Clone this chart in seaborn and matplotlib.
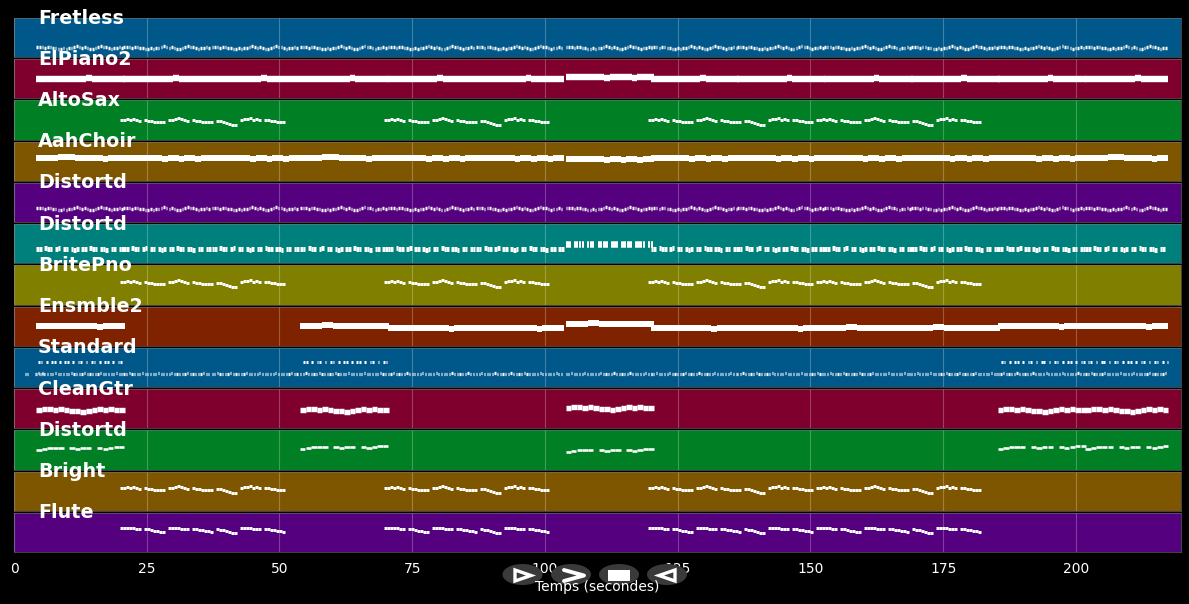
"""Piano-roll style overview of a MIDI file, one strip per instrument."""

import numpy as np
import pandas as pd
import matplotlib
matplotlib.use("Agg")
import matplotlib.pyplot as plt
from matplotlib.patches import Ellipse, Polygon, Rectangle
import seaborn as sns

nan = float("nan")

# ── Tracks ─────────────────────────────────────────────────────────────────────
TRACK_NAMES = ["Fretless", "ElPiano2", "AltoSax", "AahChoir", "Distortd", "Distortd",
               "BritePno", "Ensmble2", "Standard", "CleanGtr", "Distortd", "Bright", "Flute"]
STRIP_COLORS = ["#00578a", "#7f002c", "#007f24", "#7f5600", "#55007f", "#00807c", "#807f00",
                "#7f2200", "#00578a", "#7f002c", "#007f24", "#7f5600", "#55007f"]
X_TICKS = [0, 25, 50, 75, 100, 125, 150, 175, 200]
X_MAX = 219.8
LAST_NOTE = 217.4

# start of each 16-second section
BAR_STARTS = [4.2, 20.6, 37.2, 53.9, 70.4, 87.0, 103.9, 119.9, 136.2, 152.6, 169.0, 185.3, 201.8]
PHRASE_STARTS = [20.0, 69.7, 119.4, 151.0]
INTRO_STARTS = [4.2, 53.9, 103.9, 185.3, 201.8]
ENSEMBLE_STARTS = [4.2, 53.9, 70.4, 87.0, 103.9, 119.9, 136.2, 152.6, 169.0, 185.3, 201.8]
UPPER_STARTS = [4.5, 54.5, 185.9, 202.2]

# note heights, relative to the level of the track
LEAD_PHRASE = [1, 1, 2, 1, 2, 1, 0, nan, 1, 0, 0, -1, -1, -1, -1, nan,
               1, 1, 2, 3, 2, 1, 0, nan, 1, 0, 0, -1, -1, -1, -1, nan,
               0, 0, -1, -2, -3, -4, -4, nan, 1, 2, 2, 3, 1, 2, 1, nan,
               1, 1, 0, 0, -1, -1, -1, nan]
FLUTE_PHRASE = [0, 0, 0, 0, 0, -1, -1, nan, -1, -1, -2, -3, -3, -4, -4, nan,
                0, 0, 0, 0, -1, -1, -1, nan, -1, -1, -2, -2, -3, -3, -4, nan,
                -1, -2, -2, -3, -4, -5, -5, nan, 0, 0, 0, 0, -1, -1, -1, nan,
                -1, -1, -2, -2, -3, -3, -4, nan]
FRETLESS_BAR = [1, 1, 1, 0, 1, 1, 0, 0, -1, -1, 0, -1, 0, 0, 1, 2, 1,
                0, 1, 0, -1, -1, 0, 1, 2, 1, 1, 0, -1, 0, 0, 1, 0]
ELPIANO_BAR = [0, 0, 0, 0, 0, 0, 0, -0.5, 0, 0.5, 0, 0, -0.5, 0, 0, 0]
CHOIR_BAR = [0, 0, 0, 0, 0, 0, 0, -0.5, 0, 0, -0.5, 0, 0, -0.5, 0, 0]
CHOIR_BUMP = [0, 0, 0, 0, 1, 1, 1, 0, 0, 0, 0, 0, -0.5, 0, 0, 0]
CRUNCH_BAR = [0, 0, nan, 1, 0, 0, nan, 0, 1, nan, 0, 0, nan, 0, -1, 0, nan,
              0, 0, nan, 1, 0, 0, nan, 0, 0, -1, nan, 0, 0, nan, 0, 0]
CRUNCH_HIGH = [0, 0, nan, 0, 0, 0, 0, nan, 0, 0, 0, nan, 0, 0, 0, 0, nan,
               0, 0, 0, nan, 0, 0, 0, 0, nan, 0, 0, 0, 0, nan, 0, 0]
ENSEMBLE_BAR = [0, 0, 0, 0, 0.5, 0.5, 0, 0, 0, 0, 0, -0.5, 0, 0, 0, 0]
DRUM_TOP_BAR = [0, 0, nan, 0, nan, 0, 0, nan, 0, nan, 0, 0, nan, 0, nan, 0, 0,
                nan, 0, nan, 0, 0, nan, 0, nan, 0, 0, nan, 0, nan, 0, 0, nan]
DRUM_LOW_BAR = [0, 0, 1, 0, 0, 0, 0, 1, 0, 0, 0, 0, 0, 1, 0, 0, 0,
                0, 1, 0, 0, 0, 0, 0, 1, 0, 0, 0, 0, 0, 1, 0, 0]
DRUM_PICKUP = [0, 0, nan, nan, 0, 1, 0, 0]
CLEAN_BAR = [0, 1, 1, 0, 1, 0, -1, -1, -2, -1, 0, 1, 0, 1, 0, 0]
DIST_LOW_BAR = [-2, -1, 0, 0, 0, nan, 0, -1, 0, 0, nan, 0, -1, 0, 1, 1]

ENSEMBLE_SHIFTS = [0, 0.5, -2, -2, 2.5, -2, -2, -1.5, -1.5, 0, 0]
CLEAN_SHIFTS = [0, 0, 2, 0, 0]
DIST_LOW_SHIFTS = [0, 1, -2, 1, 1]
ELPIANO_SHIFTS = [0, 0, 0, 0, 0, 0, 1.5, 0, 0, 0, 0, 0, 0]
CHOIR_CONTOURS = [CHOIR_BUMP, CHOIR_BAR, CHOIR_BAR, CHOIR_BUMP, CHOIR_BAR, CHOIR_BAR, CHOIR_BAR,
                  CHOIR_BAR, CHOIR_BAR, CHOIR_BAR, CHOIR_BAR, CHOIR_BAR, CHOIR_BUMP]
CHOIR_SHIFTS = [0, 0, 0, 0, 0, 0, -1, 0, 0, 0, 0, 0, 0]

# (contours per start, starts, level, shift per start, note step, note length, line px)
STRIPS = [
    [([FRETLESS_BAR], BAR_STARTS, 9.5, None, 0.5, 0.3, 3.4)],
    [([ELPIANO_BAR], BAR_STARTS, 20, ELPIANO_SHIFTS, 1.04, 1.04, 6.4)],
    [([LEAD_PHRASE], PHRASE_STARTS, 19, None, 0.565, 0.565, 3)],
    [(CHOIR_CONTOURS, BAR_STARTS, 23, CHOIR_SHIFTS, 1.04, 1.04, 6)],
    [([FRETLESS_BAR], BAR_STARTS, 13, None, 0.5, 0.3, 3.4)],
    [([CRUNCH_BAR], BAR_STARTS[:6] + BAR_STARTS[7:], 15, None, 0.5, 0.5, 5),
     ([CRUNCH_HIGH], [103.9], 17.5, None, 0.5, 0.42, 3.5),
     ([CRUNCH_HIGH], [103.9], 21, None, 0.5, 0.42, 3.5)],
    [([LEAD_PHRASE], PHRASE_STARTS, 22, None, 0.565, 0.565, 3)],
    [([ENSEMBLE_BAR], ENSEMBLE_STARTS, 20, ENSEMBLE_SHIFTS, 1.04, 1.04, 6)],
    [([DRUM_TOP_BAR], UPPER_STARTS, 26, None, 0.5, 0.32, 3),
     ([DRUM_LOW_BAR], BAR_STARTS, 13.5, None, 0.5, 0.22, 3.2),
     ([DRUM_PICKUP], [2.0], 13.5, None, 0.5, 0.22, 3.2)],
    [([CLEAN_BAR], INTRO_STARTS, 19, CLEAN_SHIFTS, 1.04, 1.04, 5.4)],
    [([DIST_LOW_BAR], INTRO_STARTS, 21.5, DIST_LOW_SHIFTS, 1.04, 1.0, 2.6)],
    [([LEAD_PHRASE], PHRASE_STARTS, 22.5, None, 0.565, 0.565, 3)],
    [([FLUTE_PHRASE], PHRASE_STARTS, 24, None, 0.565, 0.565, 3)],
]


def layer_notes(contours, starts, level, shifts, step, length):
    """One row per note end, so that seaborn draws each note as its own segment."""
    rows = []
    for i, start in enumerate(starts):
        contour = contours[i % len(contours)]
        shift = shifts[i] if shifts else 0
        for j, height in enumerate(contour):
            t0 = start + j * step
            if np.isnan(height) or t0 >= LAST_NOTE:
                continue
            note = f"{i}-{j}"
            rows.append((note, t0, level + shift + height))
            rows.append((note, min(t0 + length, LAST_NOTE), level + shift + height))
    return pd.DataFrame(rows, columns=["note", "time", "height"])


sns.set_theme(style="dark", rc={
    "figure.facecolor": "black",
    "savefig.facecolor": "black",
    "text.color": "white",
    "xtick.color": "white",
    "font.family": "DejaVu Sans",
})

fig = plt.figure(figsize=(11.89, 6.04), dpi=100)
grid = fig.add_gridspec(len(TRACK_NAMES), 1, left=14 / 1189, right=1181 / 1189,
                        top=1 - 18 / 604, bottom=1 - 552 / 604, hspace=0.05)

for idx, (name, color, layers) in enumerate(zip(TRACK_NAMES, STRIP_COLORS, STRIPS)):
    ax = fig.add_subplot(grid[idx, 0])
    ax.set_facecolor(color)
    ax.grid(axis="x", color="white", alpha=0.25, linewidth=0.8)
    ax.set_axisbelow(True)
    for contours, starts, level, shifts, step, length, line_px in layers:
        notes = layer_notes(contours, starts, level, shifts, step, length)
        sns.lineplot(data=notes, x="time", y="height", units="note", estimator=None,
                     color="white", linewidth=line_px * 0.72, solid_capstyle="butt",
                     legend=False, ax=ax)
    ax.set_xlim(0, X_MAX)
    ax.set_ylim(0, 40)
    ax.set_yticks([])
    ax.set_xticks(X_TICKS)
    ax.set_xlabel("")
    ax.set_ylabel("")
    for spine in ax.spines.values():
        spine.set_color("#777777")
        spine.set_linewidth(0.4)
    if idx < len(TRACK_NAMES) - 1:
        ax.tick_params(axis="x", length=0, labelbottom=False)
    else:
        ax.tick_params(axis="x", length=4, width=0.8, labelsize=10, pad=3)
    ax.text(4.5, 1.0, name, transform=ax.get_xaxis_transform(), color="white",
            fontsize=13.8, fontweight="bold", va="center", ha="left", clip_on=False, zorder=10)

# ── Player buttons on top of the axis, in pixel coordinates ────────────────────
overlay = fig.add_axes([0, 0, 1, 1], zorder=20)
overlay.set_xlim(0, 1189)
overlay.set_ylim(604, 0)
overlay.axis("off")
for x_mid in [522.5, 571, 619, 667]:
    overlay.add_patch(Ellipse((x_mid, 574.5), 40, 21, facecolor="#3a3a3a", edgecolor="none"))
overlay.add_patch(Polygon([[515, 570], [531, 575.5], [515, 581]], closed=True, fill=False,
                          edgecolor="white", linewidth=2.4))
overlay.plot([564, 584, 564], [570, 575.5, 581], color="white", linewidth=2.8)
overlay.add_patch(Rectangle((608, 570), 22, 11, facecolor="white", edgecolor="none"))
overlay.add_patch(Polygon([[675, 570], [659, 575.5], [675, 581]], closed=True, fill=False,
                          edgecolor="white", linewidth=2.4))
overlay.text(597, 587, "Temps (secondes)", color="white", fontsize=10, ha="center", va="center")

fig.savefig("out.png", dpi=100)
